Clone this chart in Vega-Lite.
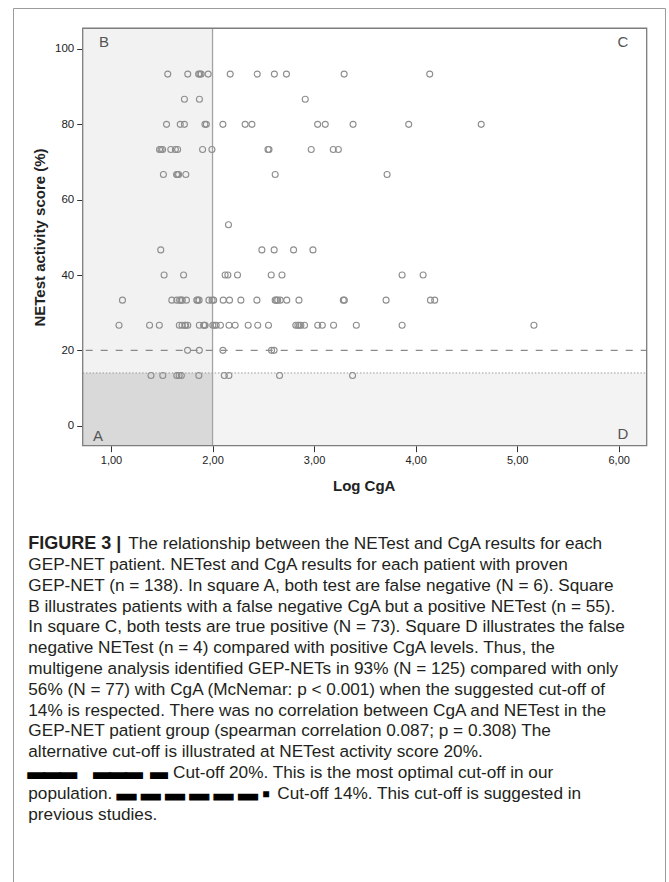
{
  "$schema": "https://vega.github.io/schema/vega-lite/v6.json",
  "width": 652,
  "height": 874,
  "autosize": {"type": "none"},
  "padding": {"left": 13, "top": 8, "right": 4, "bottom": 0},
  "background": "#ffffff",
  "config": {
    "view": {"stroke": "#9b9b9b", "strokeWidth": 1},
    "font": "Liberation Sans"
  },
  "layer": [
    {
      "layer": [
        {
          "data": {"values": [
            {"x": 0.7213, "x2": 2, "y": 14, "y2": 105.5, "q": "B"},
            {"x": 0.7213, "x2": 2, "y": -5.3, "y2": 14, "q": "A"},
            {"x": 2, "x2": 6.2757, "y": -5.3, "y2": 14, "q": "D"}
          ]},
          "mark": {"type": "rect"},
          "encoding": {
            "x": {"field": "x", "type": "quantitative",
              "scale": {"domain": [0.0349, 6.456], "nice": false, "zero": false},
              "axis": {"title": "Log CgA", "values": [1, 2, 3, 4, 5, 6],
                "labelExpr": "replace(format(datum.value, '.2f'), '.', ',')",
                "grid": false, "domain": false, "offset": -436.3,
                "tickSize": 6, "tickColor": "#333333", "tickWidth": 1,
                "labelFont": "Liberation Sans", "labelFontSize": 11, "labelColor": "#222222", "labelPadding": 3,
                "titleFont": "Liberation Sans", "titleFontSize": 15, "titleFontWeight": "bold", "titleColor": "#222222",
                "titlePadding": 13, "titleX": 350.7}},
            "x2": {"field": "x2"},
            "y": {"field": "y", "type": "quantitative",
              "scale": {"domain": [-121.13, 110.88], "nice": false, "zero": false},
              "axis": {"title": "NETest activity score (%)", "values": [0, 20, 40, 60, 80, 100],
                "grid": false, "domain": false, "offset": -69.7,
                "tickSize": 6, "tickColor": "#333333", "tickWidth": 1,
                "labelFont": "Liberation Sans", "labelFontSize": 11.5, "labelColor": "#222222", "labelPadding": 3,
                "titleFont": "Liberation Sans", "titleFontSize": 15, "titleFontWeight": "bold", "titleColor": "#222222",
                "titlePadding": 7, "titleY": 229}},
            "y2": {"field": "y2"},
            "color": {"field": "q", "type": "nominal",
              "scale": {"domain": ["A", "B", "D"], "range": ["#d9d9d9", "#f2f2f2", "#f3f3f3"]},
              "legend": null}
          }
        },
        {
          "data": {"values": [{"x": 2, "y": -5.3, "y2": 105.5}]},
          "mark": {"type": "rule", "color": "#a3a3a3", "strokeWidth": 1.3},
          "encoding": {
            "x": {"field": "x", "type": "quantitative"},
            "y": {"field": "y", "type": "quantitative"},
            "y2": {"field": "y2"}
          }
        },
        {
          "data": {"values": [{"x": 0.7213, "x2": 6.2757, "y": 20}]},
          "mark": {"type": "rule", "color": "#8a8a8a", "strokeWidth": 1.1, "strokeDash": [7, 8], "strokeDashOffset": -3},
          "encoding": {
            "x": {"field": "x", "type": "quantitative"},
            "x2": {"field": "x2"},
            "y": {"field": "y", "type": "quantitative"}
          }
        },
        {
          "data": {"values": [{"x": 0.7213, "x2": 6.2757, "y": 14}]},
          "mark": {"type": "rule", "color": "#9a9a9a", "strokeWidth": 1, "strokeDash": [1.5, 1.8]},
          "encoding": {
            "x": {"field": "x", "type": "quantitative"},
            "x2": {"field": "x2"},
            "y": {"field": "y", "type": "quantitative"}
          }
        },
        {
          "data": {"values": [
            {"x":1.559,"y":93.33},{"x":1.756,"y":93.33},{"x":1.863,"y":93.33},{"x":1.875,"y":93.33},{"x":1.888,"y":93.33},{"x":1.957,"y":93.33},{"x":2.174,"y":93.33},{"x":2.44,"y":93.33},{"x":2.609,"y":93.33},{"x":2.728,"y":93.33},{"x":3.296,"y":93.33},{"x":4.139,"y":93.33},
            {"x":1.723,"y":86.67},{"x":1.871,"y":86.67},{"x":2.913,"y":86.67},
            {"x":1.547,"y":80},{"x":1.682,"y":80},{"x":1.723,"y":80},{"x":1.925,"y":80},{"x":1.939,"y":80},{"x":2.102,"y":80},{"x":2.321,"y":80},{"x":2.388,"y":80},{"x":3.035,"y":80},{"x":3.11,"y":80},{"x":3.384,"y":80},{"x":3.932,"y":80},{"x":4.646,"y":80},
            {"x":1.478,"y":73.33},{"x":1.493,"y":73.33},{"x":1.508,"y":73.33},{"x":1.589,"y":73.33},{"x":1.634,"y":73.33},{"x":1.656,"y":73.33},{"x":1.902,"y":73.33},{"x":1.994,"y":73.33},{"x":2.546,"y":73.33},{"x":2.556,"y":73.33},{"x":2.972,"y":73.33},{"x":3.189,"y":73.33},{"x":3.239,"y":73.33},
            {"x":1.516,"y":66.67},{"x":1.646,"y":66.67},{"x":1.656,"y":66.67},{"x":1.666,"y":66.67},{"x":1.737,"y":66.67},{"x":2.617,"y":66.67},{"x":3.719,"y":66.67},
            {"x":2.157,"y":53.33},
            {"x":1.49,"y":46.67},{"x":2.486,"y":46.67},{"x":2.607,"y":46.67},{"x":2.798,"y":46.67},{"x":2.989,"y":46.67},
            {"x":1.523,"y":40},{"x":1.715,"y":40},{"x":2.124,"y":40},{"x":2.151,"y":40},{"x":2.246,"y":40},{"x":2.578,"y":40},{"x":2.684,"y":40},{"x":3.867,"y":40},{"x":4.074,"y":40},
            {"x":1.113,"y":33.33},{"x":1.599,"y":33.33},{"x":1.648,"y":33.33},{"x":1.676,"y":33.33},{"x":1.69,"y":33.33},{"x":1.702,"y":33.33},{"x":1.743,"y":33.33},{"x":1.845,"y":33.33},{"x":1.855,"y":33.33},{"x":1.868,"y":33.33},{"x":1.964,"y":33.33},{"x":1.996,"y":33.33},{"x":2.011,"y":33.33},{"x":2.105,"y":33.33},{"x":2.167,"y":33.33},{"x":2.279,"y":33.33},{"x":2.437,"y":33.33},{"x":2.617,"y":33.33},{"x":2.63,"y":33.33},{"x":2.642,"y":33.33},{"x":2.667,"y":33.33},{"x":2.731,"y":33.33},{"x":2.851,"y":33.33},{"x":3.288,"y":33.33},{"x":3.298,"y":33.33},{"x":3.709,"y":33.33},{"x":4.146,"y":33.33},{"x":4.188,"y":33.33},
            {"x":1.079,"y":26.67},{"x":1.38,"y":26.67},{"x":1.476,"y":26.67},{"x":1.673,"y":26.67},{"x":1.7,"y":26.67},{"x":1.728,"y":26.67},{"x":1.735,"y":26.67},{"x":1.756,"y":26.67},{"x":1.87,"y":26.67},{"x":1.912,"y":26.67},{"x":1.92,"y":26.67},{"x":1.927,"y":26.67},{"x":2.003,"y":26.67},{"x":2.02,"y":26.67},{"x":2.036,"y":26.67},{"x":2.078,"y":26.67},{"x":2.162,"y":26.67},{"x":2.223,"y":26.67},{"x":2.351,"y":26.67},{"x":2.445,"y":26.67},{"x":2.551,"y":26.67},{"x":2.82,"y":26.67},{"x":2.84,"y":26.67},{"x":2.856,"y":26.67},{"x":2.87,"y":26.67},{"x":2.906,"y":26.67},{"x":3.036,"y":26.67},{"x":3.081,"y":26.67},{"x":3.192,"y":26.67},{"x":3.416,"y":26.67},{"x":3.867,"y":26.67},{"x":5.165,"y":26.67},
            {"x":1.754,"y":20},{"x":1.87,"y":20},{"x":2.102,"y":20},{"x":2.581,"y":20},{"x":2.606,"y":20},
            {"x":1.394,"y":13.33},{"x":1.51,"y":13.33},{"x":1.648,"y":13.33},{"x":1.671,"y":13.33},{"x":1.693,"y":13.33},{"x":1.865,"y":13.33},{"x":2.116,"y":13.33},{"x":2.161,"y":13.33},{"x":2.66,"y":13.33},{"x":3.379,"y":13.33}
          ]},
          "mark": {"type": "point", "shape": "circle", "filled": false, "size": 36, "strokeWidth": 1.1, "color": "#8e8e8e", "opacity": 1},
          "encoding": {
            "x": {"field": "x", "type": "quantitative"},
            "y": {"field": "y", "type": "quantitative"}
          }
        },
        {
          "data": {"values": [
            {"lab": "B", "x": 0.931, "y": 101.9},
            {"lab": "C", "x": 6.042, "y": 101.9},
            {"lab": "A", "x": 0.872, "y": -2.7},
            {"lab": "D", "x": 6.042, "y": -2.2}
          ]},
          "mark": {"type": "text", "fontSize": 15, "color": "#555555", "font": "Liberation Sans", "align": "center", "baseline": "middle"},
          "encoding": {
            "x": {"field": "x", "type": "quantitative"},
            "y": {"field": "y", "type": "quantitative"},
            "text": {"field": "lab"}
          }
        },
        {
          "data": {"values": [{"x": 0.7213, "x2": 6.2757, "y": -5.3, "y2": 105.5}]},
          "mark": {"type": "rect", "fill": null, "fillOpacity": 0, "stroke": "#7d7d7d", "strokeWidth": 1.3},
          "encoding": {
            "x": {"field": "x", "type": "quantitative"},
            "x2": {"field": "x2"},
            "y": {"field": "y", "type": "quantitative"},
            "y2": {"field": "y2"}
          }
        }
      ]
    },
    {
      "data": {"values": [
        {"line": 1, "part": "b", "text": "FIGURE 3 |"},
        {"line": 1, "part": "r1", "text": "The relationship between the NETest and CgA results for each"},
        {"line": 2, "part": "r", "text": "GEP-NET patient. NETest and CgA results for each patient with proven"},
        {"line": 3, "part": "r", "text": "GEP-NET (n = 138). In square A, both test are false negative (N = 6). Square"},
        {"line": 4, "part": "r", "text": "B illustrates patients with a false negative CgA but a positive NETest (n = 55)."},
        {"line": 5, "part": "r", "text": "In square C, both tests are true positive (N = 73). Square D illustrates the false"},
        {"line": 6, "part": "r", "text": "negative NETest (n = 4) compared with positive CgA levels. Thus, the"},
        {"line": 7, "part": "r", "text": "multigene analysis identified GEP-NETs in 93% (N = 125) compared with only"},
        {"line": 8, "part": "r", "text": "56% (N = 77) with CgA (McNemar: p < 0.001) when the suggested cut-off of"},
        {"line": 9, "part": "r", "text": "14% is respected. There was no correlation between CgA and NETest in the"},
        {"line": 10, "part": "r", "text": "GEP-NET patient group (spearman correlation 0.087; p = 0.308) The"},
        {"line": 11, "part": "r", "text": "alternative cut-off is illustrated at NETest activity score 20%."},
        {"line": 12, "part": "bar12", "text": "▬▬▬\u00a0\u00a0\u00a0\u00a0▬▬▬\u00a0\u00a0▬"},
        {"line": 12, "part": "r12", "text": "Cut-off 20%. This is the most optimal cut-off in our"},
        {"line": 13, "part": "r", "text": "population."},
        {"line": 13, "part": "bar13", "text": "▬\u00a0▬\u00a0▬\u00a0▬\u00a0▬\u00a0▬\u00a0▪"},
        {"line": 13, "part": "r13", "text": "Cut-off 14%. This cut-off is suggested in"},
        {"line": 14, "part": "r", "text": "previous studies."}
      ]},
      "encoding": {
        "y": {"field": "line", "type": "quantitative",
          "scale": {"domain": [-24.784, 17.236], "reverse": true, "nice": false, "zero": false},
          "axis": null},
        "text": {"field": "text"}
      },
      "layer": [
        {
          "transform": [{"filter": "datum.part == 'b'"}],
          "mark": {"type": "text", "x": 15.3, "align": "left", "baseline": "middle", "font": "Liberation Sans", "fontSize": 18, "fontWeight": "bold", "color": "#231f20"}
        },
        {
          "transform": [{"filter": "datum.part == 'r1'"}],
          "mark": {"type": "text", "x": 15.3, "dx": 100, "align": "left", "baseline": "middle", "font": "Liberation Sans", "fontSize": 17.2, "color": "#231f20"}
        },
        {
          "transform": [{"filter": "datum.part == 'r'"}],
          "mark": {"type": "text", "x": 15.3, "align": "left", "baseline": "middle", "font": "Liberation Sans", "fontSize": 17.2, "color": "#231f20"}
        },
        {
          "transform": [{"filter": "datum.part == 'bar12'"}],
          "mark": {"type": "text", "x": 15.3, "align": "left", "baseline": "middle", "font": "Liberation Sans", "fontSize": 16, "color": "#000000", "stroke": "#000000", "strokeWidth": 2}
        },
        {
          "transform": [{"filter": "datum.part == 'r12'"}],
          "mark": {"type": "text", "x": 15.3, "dx": 144.7, "align": "left", "baseline": "middle", "font": "Liberation Sans", "fontSize": 17.2, "color": "#231f20"}
        },
        {
          "transform": [{"filter": "datum.part == 'bar13'"}],
          "mark": {"type": "text", "x": 15.3, "dx": 88.7, "align": "left", "baseline": "middle", "font": "Liberation Sans", "fontSize": 19, "color": "#000000", "stroke": "#000000", "strokeWidth": 1.2}
        },
        {
          "transform": [{"filter": "datum.part == 'r13'"}],
          "mark": {"type": "text", "x": 15.3, "dx": 249, "align": "left", "baseline": "middle", "font": "Liberation Sans", "fontSize": 17.2, "color": "#231f20"}
        }
      ]
    }
  ],
  "resolve": {"scale": {"x": "independent", "y": "independent"}, "axis": {"x": "independent", "y": "independent"}}
}
